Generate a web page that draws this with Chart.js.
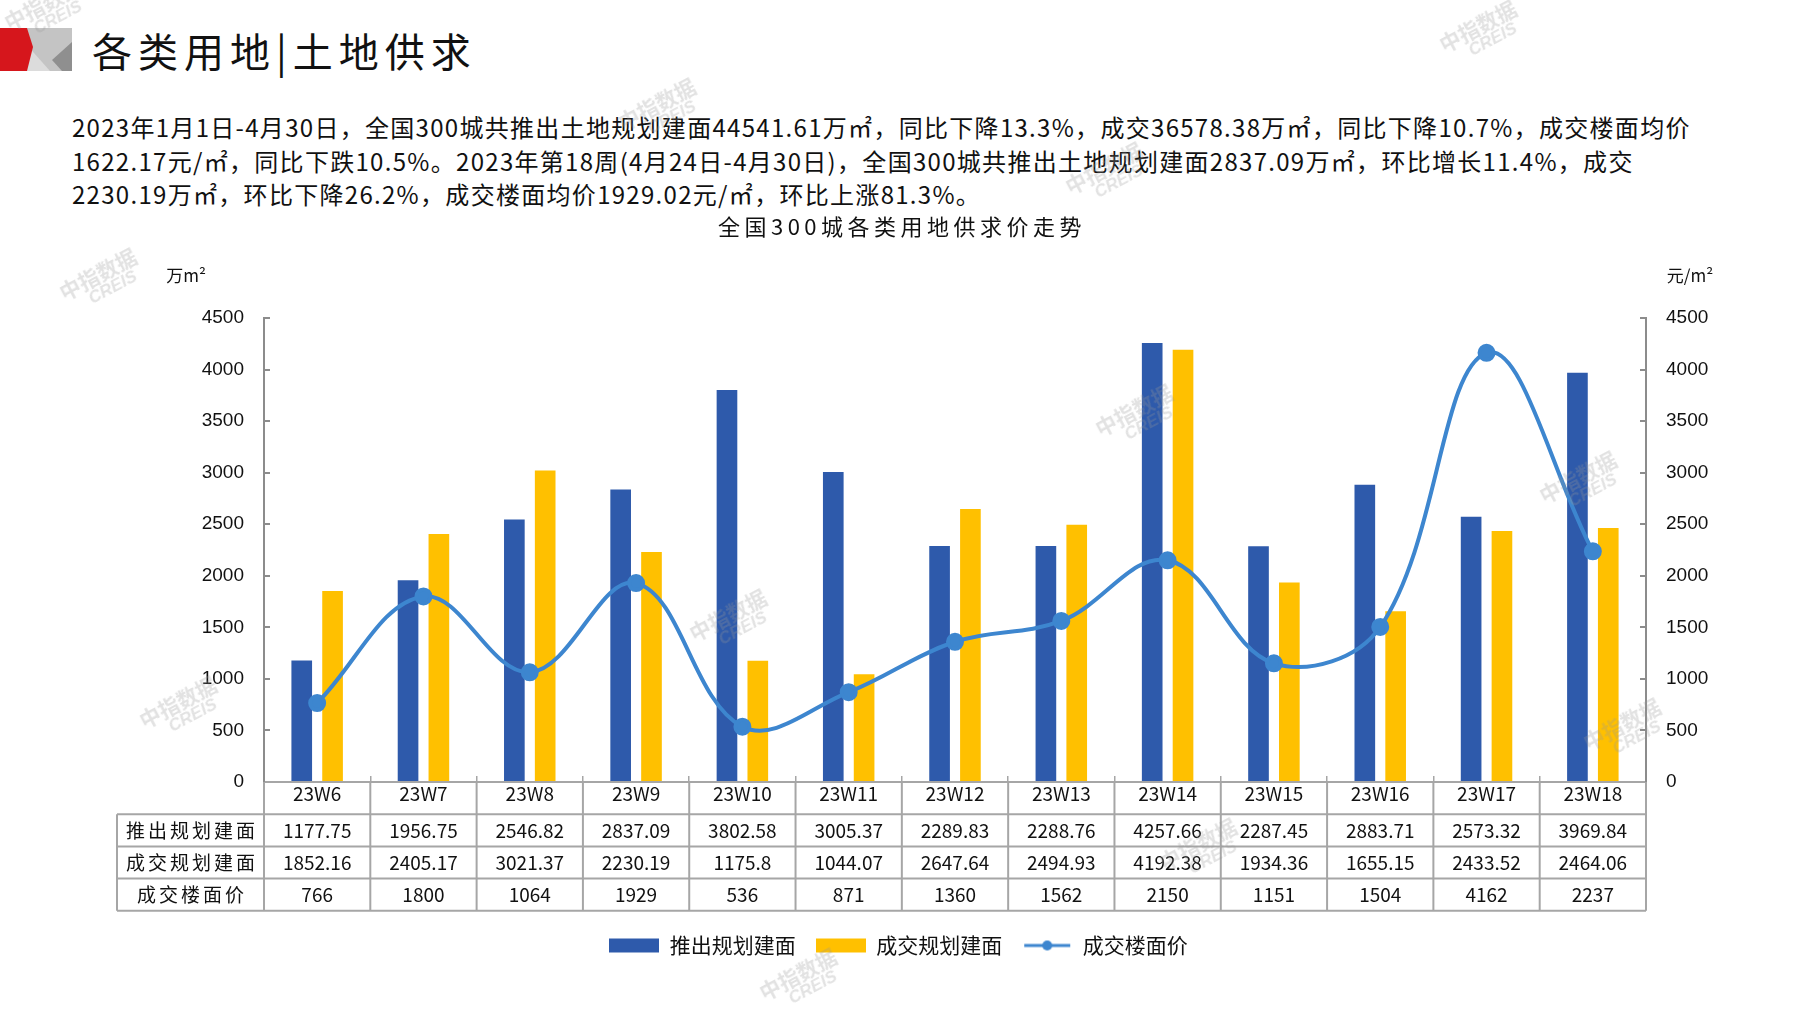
<!DOCTYPE html>
<html>
<head>
<meta charset="utf-8">
<script src="https://cdn.jsdelivr.net/npm/chart.js@4.4.1/dist/chart.umd.min.js"></script>
<style>
  html, body { margin: 0; padding: 0; background: #fff; }
  body { width: 1797px; height: 1010px; position: relative; overflow: hidden; font-family: "Noto Sans CJK SC", sans-serif; }
  #logo { position: absolute; left: 0; top: 28px; }
  #title { position: absolute; left: 92px; top: 22px; font-size: 40px; line-height: 56px; color: #111; letter-spacing: 6px; }
  #summary { position: absolute; left: 72px; top: 110px; font-size: 24px; line-height: 33.5px; color: #111; letter-spacing: 1.3px; white-space: nowrap; }
  #chartBox { position: absolute; left: 0; top: 0; width: 1797px; height: 1010px; }
  .wm { position: absolute; color: rgba(150,150,150,0.28); font-weight: bold; font-size: 21px; line-height: 20px; transform: rotate(-28deg); pointer-events: none; z-index: 5; text-align: center; }
  .wm span { display: block; font-family: "Liberation Sans", sans-serif; font-style: italic; font-size: 17px; padding-left: 14px; }
</style>
</head>
<body>
<svg id="logo" width="72" height="43" viewBox="0 0 72 43">
  <rect x="22" y="0" width="50" height="43" fill="#c4c4c4"/>
  <polygon points="26,16 50,43 26,43" fill="#dcdcdc"/>
  <polygon points="52,32 72,14 72,43 62,43" fill="#8f8f8f"/>
  <polygon points="0,0 27,0 33,19 27,43 0,43" fill="#d6161c"/>
</svg>
<div id="title">各类用地|土地供求</div>
<div id="summary">2023年1月1日-4月30日，全国300城共推出土地规划建面44541.61万㎡，同比下降13.3%，成交36578.38万㎡，同比下降10.7%，成交楼面均价<br>1622.17元/㎡，同比下跌10.5%。2023年第18周(4月24日-4月30日)，全国300城共推出土地规划建面2837.09万㎡，环比增长11.4%，成交<br>2230.19万㎡，环比下降26.2%，成交楼面均价1929.02元/㎡，环比上涨81.3%。</div>
<div id="chartBox"><canvas id="landChart" width="1797" height="1010"></canvas></div>
<script>
// chart data
const categories = ['23W6', '23W7', '23W8', '23W9', '23W10', '23W11', '23W12', '23W13', '23W14', '23W15', '23W16', '23W17', '23W18'];
const seriesNames = ['推出规划建面', '成交规划建面', '成交楼面价'];
const launchArea = [1177.75, 1956.75, 2546.82, 2837.09, 3802.58, 3005.37, 2289.83, 2288.76, 4257.66, 2287.45, 2883.71, 2573.32, 3969.84];
const dealArea = [1852.16, 2405.17, 3021.37, 2230.19, 1175.8, 1044.07, 2647.64, 2494.93, 4192.38, 1934.36, 1655.15, 2433.52, 2464.06];
const dealPrice = [766, 1800, 1064, 1929, 536, 871, 1360, 1562, 2150, 1151, 1504, 4162, 2237];
const axisMin = 0, axisMax = 4500, axisStep = 500;
const chartTitle = '全国300城各类用地供求价走势';
const leftUnit = '万m²';
const rightUnit = '元/m²';

const BLUE = '#2e5aab';
const YELLOW = '#ffc000';
const LINE = '#3d86cf';
const GRID = '#a6a6a6';
const CJK = "'Noto Sans CJK SC', sans-serif";
const NUM = "'Liberation Sans', Arial, sans-serif";

// watermarks
[[1440, 14], [619, 92], [1066, 156], [60, 262], [1096, 398], [1540, 465], [690, 603], [140, 690], [1584, 712], [1160, 832], [760, 962], [5, -8]].forEach(p => {
  const d = document.createElement('div');
  d.className = 'wm';
  d.style.left = p[0] + 'px';
  d.style.top = p[1] + 'px';
  d.innerHTML = '中指数据<span>CREIS</span>';
  document.body.appendChild(d);
});

// legend icons
function makeIcon(kind, color) {
  const c = document.createElement('canvas');
  c.width = 50; c.height = 16;
  const g = c.getContext('2d');
  if (kind === 'bar') {
    g.fillStyle = color;
    g.fillRect(0, 1, 50, 14);
  } else {
    g.strokeStyle = color; g.lineWidth = 3;
    g.beginPath(); g.moveTo(2, 8); g.lineTo(48, 8); g.stroke();
    g.fillStyle = color;
    g.beginPath(); g.arc(25, 8, 5, 0, Math.PI * 2); g.fill();
  }
  return c;
}
const legendIcons = [makeIcon('bar', BLUE), makeIcon('bar', YELLOW), makeIcon('line', LINE)];

// data table, chart title and unit labels
const tablePlugin = {
  id: 'dataTable',
  afterDraw(chart) {
    const ctx = chart.ctx;
    const area = chart.chartArea;
    const xs = chart.scales.x;
    const step = xs.getPixelForValue(1) - xs.getPixelForValue(0);
    const top = area.bottom;
    const rowH = 32.2;
    const tableLeft = 117;
    const rows = [launchArea, dealArea, dealPrice];

    ctx.save();
    ctx.strokeStyle = GRID;
    ctx.lineWidth = 2;
    for (let r = 1; r <= 4; r++) {
      const y = top + rowH * r;
      ctx.beginPath();
      ctx.moveTo(tableLeft, y);
      ctx.lineTo(area.right, y);
      ctx.stroke();
    }
    ctx.beginPath();
    ctx.moveTo(tableLeft, top + rowH);
    ctx.lineTo(tableLeft, top + rowH * 4);
    ctx.stroke();
    for (let i = 0; i <= categories.length; i++) {
      const x = xs.getPixelForValue(i) - step / 2;
      ctx.beginPath();
      ctx.moveTo(x, top);
      ctx.lineTo(x, top + rowH * 4);
      ctx.stroke();
    }
    ctx.fillStyle = '#111';
    ctx.textBaseline = 'middle';
    ctx.textAlign = 'center';
    ctx.font = '19px ' + CJK;
    ctx.letterSpacing = '3px';
    rows.forEach((vals, r) => {
      const y = top + rowH * (r + 1.5);
      ctx.fillText(seriesNames[r], (tableLeft + area.left) / 2 + 1.5, y);
    });
    ctx.letterSpacing = '0px';
    rows.forEach((vals, r) => {
      const y = top + rowH * (r + 1.5);
      vals.forEach((v, i) => {
        ctx.fillText(String(v), xs.getPixelForValue(i), y);
      });
    });
    // title
    ctx.font = '22px ' + CJK;
    ctx.letterSpacing = '4.5px';
    ctx.fillText(chartTitle, 902, area.top - 91);
    ctx.letterSpacing = '0px';
    // axis units
    ctx.font = '17px ' + CJK;
    ctx.fillText(leftUnit, 186, area.top - 42);
    ctx.fillText(rightUnit, 1690, area.top - 42);
    ctx.restore();
  }
};

const ctx = document.getElementById('landChart').getContext('2d');

new Chart(ctx, {
  data: {
    labels: categories,
    datasets: [
      {
        type: 'bar',
        label: seriesNames[0],
        data: launchArea,
        backgroundColor: BLUE,
        yAxisID: 'y',
        order: 2,
        categoryPercentage: 0.58,
        barPercentage: 0.67
      },
      {
        type: 'bar',
        label: seriesNames[1],
        data: dealArea,
        backgroundColor: YELLOW,
        yAxisID: 'y',
        order: 2,
        categoryPercentage: 0.58,
        barPercentage: 0.67
      },
      {
        type: 'line',
        label: seriesNames[2],
        data: dealPrice,
        borderColor: LINE,
        backgroundColor: LINE,
        borderWidth: 4,
        pointRadius: 7,
        pointBackgroundColor: LINE,
        pointBorderColor: LINE,
        tension: 0.38,
        yAxisID: 'y1',
        order: 1
      }
    ]
  },
  options: {
    responsive: false,
    animation: false,
    layout: { padding: { top: 318, left: 0, right: 0, bottom: 44 } },
    plugins: {
      title: { display: false },
      legend: {
        position: 'bottom',
        labels: {
          usePointStyle: true,
          pointStyleWidth: 50,
          boxHeight: 14,
          padding: 20,
          color: '#111',
          font: { family: CJK, size: 21 },
          generateLabels(chart) {
            const items = Chart.defaults.plugins.legend.labels.generateLabels(chart);
            items.sort((a, b) => a.datasetIndex - b.datasetIndex);
            items.forEach(it => { it.pointStyle = legendIcons[it.datasetIndex]; });
            return items;
          }
        }
      },
      tooltip: { enabled: false }
    },
    scales: {
      x: {
        offset: true,
        grid: { offset: true, drawOnChartArea: false, drawTicks: true, tickLength: -6, color: GRID, lineWidth: 1.5 },
        border: { display: true, color: GRID, width: 2 },
        ticks: { color: '#111', font: { family: CJK, size: 19 }, padding: 6, maxRotation: 0 },
        afterFit(s) { s.height = 133; }
      },
      y: {
        position: 'left',
        min: axisMin,
        max: axisMax,
        ticks: { stepSize: axisStep, color: '#111', font: { family: NUM, size: 19 }, padding: 26, callback: v => String(v) },
        grid: { drawOnChartArea: false, drawTicks: true, tickLength: -6, color: '#8c8c8c', lineWidth: 2 },
        border: { display: true, color: '#8c8c8c', width: 2 },
        afterFit(s) { s.width = 264; }
      },
      y1: {
        position: 'right',
        min: axisMin,
        max: axisMax,
        ticks: { stepSize: axisStep, color: '#111', font: { family: NUM, size: 19 }, padding: 26, callback: v => String(v) },
        grid: { drawOnChartArea: false, drawTicks: true, tickLength: -6, color: '#8c8c8c', lineWidth: 2 },
        border: { display: true, color: '#8c8c8c', width: 2 },
        afterFit(s) { s.width = 151; }
      }
    }
  },
  plugins: [tablePlugin]
});
</script>
</body>
</html>
